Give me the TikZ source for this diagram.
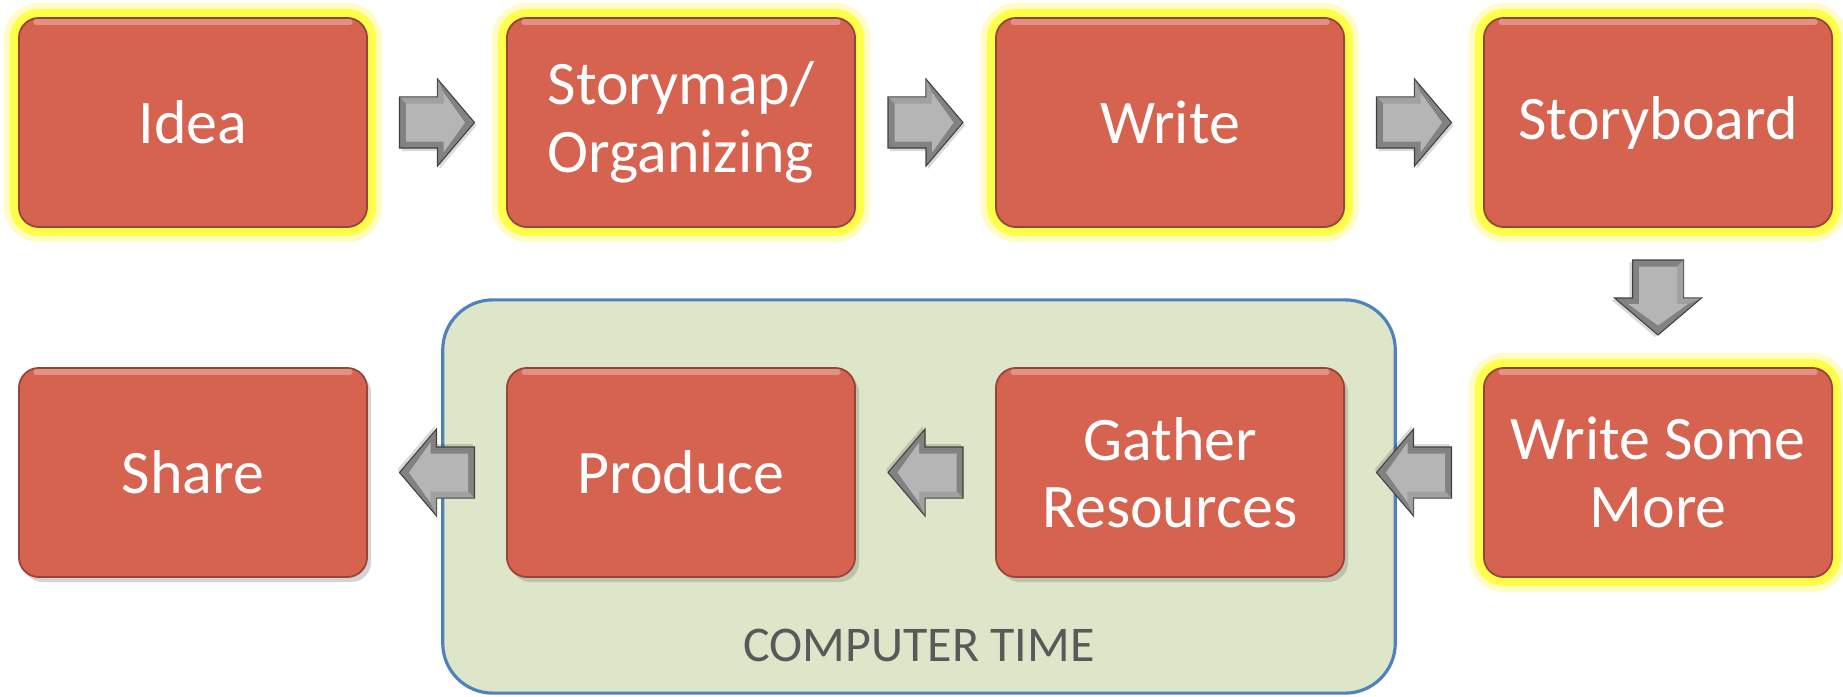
\documentclass[tikz,border=0pt]{standalone}
\usepackage{fontspec}
\setmainfont{Carlito}
\usetikzlibrary{calc,shadows}

\definecolor{boxred}{RGB}{214,98,80}
\definecolor{glowyellow}{RGB}{255,255,60}
\definecolor{compgreen}{RGB}{221,230,200}
\definecolor{compblue}{RGB}{79,129,189}
\definecolor{labelgray}{RGB}{89,89,89}
\definecolor{arrowgray}{RGB}{130,130,130}

\tikzset{
    stage/.style={draw=boxred!70!black, line width=0.5pt, fill=boxred,
        rounded corners=0.2cm, minimum width=3.48cm, minimum height=2.09cm,
        text=white, align=center, font=\fontsize{17.6}{19.2}\selectfont,
        drop shadow={opacity=0.35, shadow xshift=0.04cm, shadow yshift=-0.05cm}},
    glow/.style={preaction={draw=yellow!50, line width=0.3cm, opacity=0.45},
        preaction={draw=glowyellow, line width=0.18cm, opacity=0.9}},
    computer/.style={draw=compblue, line width=0.9pt, fill=compgreen,
        rounded corners=0.5cm, minimum width=9.52cm, minimum height=3.93cm},
    complabel/.style={text=labelgray, font=\fontsize{14.2}{16}\selectfont},
    garrow/.pic={
        % outer body with dark rim
        \fill[black, opacity=0.15] (-35.5,-28.5) -- (2.5,-28.5) -- (2.5,-46.5) -- (39.5,-3) -- (2.5,40.5) -- (2.5,22.5) -- (-35.5,22.5) -- cycle;
        \draw[fill=arrowgray, draw=gray!50!black, line width=0.3pt]
            (-37.5,-25.5) -- (0.5,-25.5) -- (0.5,-43.5) -- (37.5,0) -- (0.5,43.5) -- (0.5,25.5) -- (-37.5,25.5) -- cycle;
        % bevel face
        \fill[gray!58] (-31,-19) -- (6.5,-19) -- (6.5,-30) -- (28,0) -- (6.5,30) -- (6.5,19) -- (-31,19) -- cycle;
        \fill[white, opacity=0.25] (-31,19) -- (6.5,19) -- (6.5,30) -- (0.5,43.5) -- (0.5,25.5) -- (-37.5,25.5) -- cycle;
    }
}

\begin{document}
\begin{tikzpicture}[x=0.01cm, y=0.01cm]
    \useasboundingbox (0,0) rectangle (1843,696);

    % computer time area
    \node[computer] (comp) at (919,199.5) {};
    \node[complabel] (comptext) at ($(comp.south)+(0,49)$) {COMPUTER TIME};

    % top row
    \node[stage, glow] (idea) at (193,573.5) {Idea};
    \node[stage, glow] (storymap) at (681,573.5) {Storymap/\\Organizing};
    \node[stage, glow] (write) at (1170,573.5) {Write};
    \node[stage, glow] (storyboard) at (1658,573.5) {Storyboard};

    % bottom row
    \node[stage, glow] (more) at (1658,223.5) {Write Some\\More};
    \node[stage] (gather) at (1170,223.5) {Gather\\Resources};
    \node[stage] (produce) at (681,223.5) {Produce};
    \node[stage] (share) at (193,223.5) {Share};

    % light rim on top of each box
    \foreach \n in {idea,storymap,write,storyboard,more,gather,produce,share}{
        \draw[white, opacity=0.3, line width=1.5pt, line cap=round]
            ($(\n.north west)+(18,-5)$) -- ($(\n.north east)+(-18,-5)$);
    }

    % block arrows
    \pic at ($(idea.east)!0.5!(storymap.west)$) {garrow};
    \pic at ($(storymap.east)!0.5!(write.west)$) {garrow};
    \pic at ($(write.east)!0.5!(storyboard.west)$) {garrow};
    \pic[rotate=-90] at ($(storyboard.south)!0.5!(more.north)$) {garrow};
    \pic[rotate=180] at ($(more.west)!0.5!(gather.east)$) {garrow};
    \pic[rotate=180] at ($(gather.west)!0.5!(produce.east)$) {garrow};
    \pic[rotate=180] at ($(produce.west)!0.5!(share.east)$) {garrow};
\end{tikzpicture}
\end{document}
